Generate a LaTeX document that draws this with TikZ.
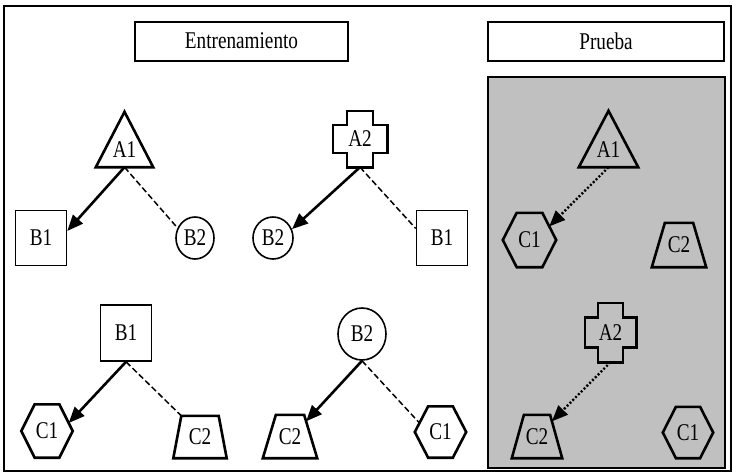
\documentclass[tikz,border=0pt]{standalone}
\usepackage{fontspec}
\setmainfont{Liberation Serif}[FakeStretch=0.8]
\usetikzlibrary{arrows.meta,calc,shapes.geometric}

\definecolor{panelgray}{RGB}{192,192,192}

% Outlines drawn around invisible "slot" nodes, using the node's anchors
\newcommand\TriOutline[1]{%
  \draw[outline] (#1.north) -- (#1.south east) -- (#1.south west) -- cycle;}
\newcommand\HexOutline[1]{%
  \coordinate (#1-nw) at ($(#1.north west)!0.26!(#1.north east)$);
  \coordinate (#1-ne) at ($(#1.north west)!0.74!(#1.north east)$);
  \coordinate (#1-sw) at ($(#1.south west)!0.26!(#1.south east)$);
  \coordinate (#1-se) at ($(#1.south west)!0.74!(#1.south east)$);
  \draw[outline] (#1.west) -- (#1-nw) -- (#1-ne) -- (#1.east) -- (#1-se) -- (#1-sw) -- cycle;}
\newcommand\TrapOutline[2]{%
  \coordinate (#1-nw) at ($(#1.north west)!#2!(#1.north east)$);
  \coordinate (#1-ne) at ($(#1.north east)!#2!(#1.north west)$);
  \draw[outline] (#1-nw) -- (#1-ne) -- (#1.south east) -- (#1.south west) -- cycle;}
\newcommand\CrossOutline[1]{%
  \draw[outline] let \p1=(#1.north west), \p2=(#1.south east),
    \n1={\x1+0.26*(\x2-\x1)}, \n2={\x2-0.26*(\x2-\x1)},
    \n3={\y1+0.25*(\y2-\y1)}, \n4={\y2-0.25*(\y2-\y1)} in
    (\n1,\y1) -- (\n2,\y1) -- (\n2,\n3) -- (\x2,\n3) -- (\x2,\n4)
    -- (\n2,\n4) -- (\n2,\y2) -- (\n1,\y2) -- (\n1,\n4)
    -- (\x1,\n4) -- (\x1,\n3) -- (\n1,\n3) -- cycle;}

\begin{document}
\begin{tikzpicture}[x=1pt,y=-1pt,
  every node/.style={font=\fontsize{24}{26}\selectfont},
  frame/.style={draw,line width=2pt},
  titlebox/.style={draw,line width=2pt,minimum width=213pt,minimum height=39pt,inner sep=0pt},
  slot/.style={inner sep=0pt},
  sq/.style={draw,line width=1.6pt,inner sep=0pt,minimum width=51pt,minimum height=55pt},
  oval/.style={draw,ellipse,line width=1.6pt,inner sep=0pt},
  outline/.style={draw,line width=2.6pt,line join=miter},
  solidarrow/.style={line width=2.6pt,-{Triangle[length=16pt,width=13pt]}},
  dashlink/.style={line width=1.5pt,dash pattern=on 6pt off 3pt},
  dotarrow/.style={line width=2.4pt,dash pattern=on 2pt off 2pt,-{Triangle[length=16pt,width=13pt]}},
]
\useasboundingbox (0,0) rectangle (733,474);
\fill[white] (0,0) rectangle (733,474);

% outer frame, headings and the test panel
\draw[frame] (4,6) rectangle (731,471);
\node[titlebox] (train) at (241.5,41) {Entrenamiento};
\node[titlebox,minimum width=236pt] (test) at (606,41) {Prueba};
\draw[frame,fill=panelgray] (488,77) rectangle (725,468);

% training: A1 tree
\node[slot,minimum width=57pt,minimum height=55pt] (a1) at (124.5,139.5) {};
\TriOutline{a1}
\node (a1t) at (124.5,150) {A1};
\node[sq] (b1a) at (41,238) {B1};
\node[oval,minimum width=38pt,minimum height=42pt] (b2a) at (195,238) {B2};
\draw[solidarrow] (a1.south) -- (b1a.15);
\draw[dashlink] (a1.south) -- (b2a.150);

% training: A2 tree
\node[slot,minimum width=54pt,minimum height=56pt] (a2) at (360,139) {A2};
\CrossOutline{a2}
\node[oval,minimum width=40pt,minimum height=42pt] (b2b) at (273,238) {B2};
\node[sq] (b1b) at (442,238) {B1};
\draw[solidarrow] (a2.south) -- (b2b.25);
\draw[dashlink] (a2.south) -- (b1b.160);

% training: B1 tree
\node[sq,minimum height=56pt] (b1c) at (126,333) {B1};
\node[slot,minimum width=51pt,minimum height=53pt] (c1a) at (47,431) {C1};
\HexOutline{c1a}
\node[slot,minimum width=53pt,minimum height=42pt] (c2a) at (200,437) {C2};
\TrapOutline{c2a}{0.15}
\draw[solidarrow] (b1c.south) -- ($(c1a.east)!0.3!(c1a-ne)$);
\draw[dashlink] (b1c.south) -- (c2a-nw);

% training: B2 tree
\node[oval,minimum width=48pt,minimum height=52pt] (b2c) at (362,334) {B2};
\node[slot,minimum width=54pt,minimum height=43pt] (c2b) at (290,436.5) {C2};
\TrapOutline{c2b}{0.24}
\node[slot,minimum width=51pt,minimum height=51pt] (c1b) at (440.5,432) {C1};
\HexOutline{c1b}
\draw[solidarrow] (b2c.south) -- ($(c2b-ne)!0.15!(c2b.south east)$);
\draw[dashlink] (b2c.south) -- ($(c1b.west)!0.35!(c1b-nw)$);

% test panel
\node[slot,minimum width=59pt,minimum height=56pt] (a1r) at (608.5,139) {};
\TriOutline{a1r}
\node (a1rt) at (608.5,150) {A1};
\node[slot,minimum width=53pt,minimum height=54pt] (c1r) at (529.5,240) {C1};
\HexOutline{c1r}
\node[slot,minimum width=54pt,minimum height=44pt] (c2r) at (679,245) {C2};
\TrapOutline{c2r}{0.24}
\draw[dotarrow] (a1r.south) -- ($(c1r.east)!0.5!(c1r-ne)$);

\node[slot,minimum width=51pt,minimum height=59pt] (a2r) at (610.5,332.5) {A2};
\CrossOutline{a2r}
\node[slot,minimum width=50pt,minimum height=43pt] (c2r2) at (537,436.5) {C2};
\TrapOutline{c2r2}{0.24}
\node[slot,minimum width=50pt,minimum height=51pt] (c1r2) at (688,432.5) {C1};
\HexOutline{c1r2}
\draw[dotarrow] (a2r.south) -- ($(c2r2-ne)!0.15!(c2r2.south east)$);
\end{tikzpicture}
\end{document}
